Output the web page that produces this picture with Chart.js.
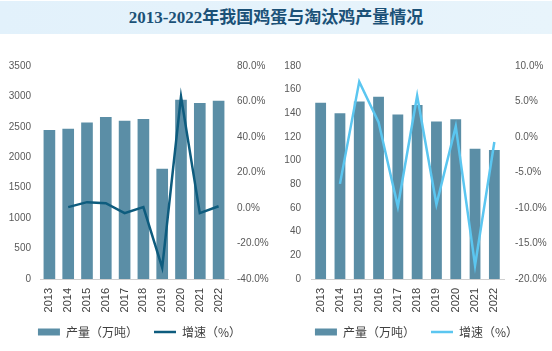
<!DOCTYPE html>
<html>
<head>
<meta charset="utf-8">
<script src="https://cdn.jsdelivr.net/npm/chart.js@4"></script>
<style>
  body { margin: 0; width: 552px; height: 351px; background: #fff; overflow: hidden; }
  #title {
    position: absolute; left: 0; top: 1px; width: 552px; height: 33px;
    background: linear-gradient(to right, #e2f1fb, #e8f4fb);
    color: #1b5177; font: bold 17px "Liberation Serif", "Noto Sans CJK SC", serif;
    text-align: center; line-height: 34px;
  }
  .box { position: absolute; top: 36px; width: 276px; height: 315px; }
</style>
</head>
<body>
<div id="title">2013-2022年我国鸡蛋与淘汰鸡产量情况</div>
<div class="box" style="left:0"><canvas id="egg"></canvas></div>
<div class="box" style="left:276px"><canvas id="hen"></canvas></div>
<script>
// 年份
const years = ["2013", "2014", "2015", "2016", "2017", "2018", "2019", "2020", "2021", "2022"];

// 鸡蛋产量（万吨）和增速（%）
const eggOutput = [2450, 2470, 2570, 2660, 2600, 2630, 1810, 2945, 2890, 2930];
const eggGrowth = [null, 0.5, 3.3, 2.7, -2.9, 0.5, -33.6, 62.8, -2.9, 1.0];

// 淘汰鸡产量（万吨）和增速（%）
const henOutput = [149, 140, 150, 154, 139, 147, 133, 135, 110, 109];
const henGrowth = [null, -6.6, 7.8, 2.1, -9.8, 5.8, -9.5, 1.5, -18.1, -0.7];

// 坐标轴范围
const eggAxis = { min: 0, max: 3500, step: 500, rmin: -40, rmax: 80, rstep: 20 };
const henAxis = { min: 0, max: 180, step: 20, rmin: -20, rmax: 10, rstep: 5 };

const tickFont = { family: "'Liberation Sans', Arial, sans-serif", size: 10 };
const tickColor = "#595959";
const noGrid = { display: false, drawTicks: false, tickLength: 0 };

// lay: 左右轴宽度和刻度间距
function makeChart(id, output, growth, ax, lineColor, barPct, pad, lay) {
  return new Chart(document.getElementById(id), {
    type: "bar",
    data: {
      labels: years,
      datasets: [
        {
          type: "line",
          label: "增速（%）",
          data: growth,
          yAxisID: "y1",
          borderColor: lineColor,
          backgroundColor: lineColor,
          borderWidth: 2.5,
          pointRadius: 0,
          pointStyle: "line",
          tension: 0,
          order: 0
        },
        {
          label: "产量（万吨）   ",
          data: output,
          yAxisID: "y",
          backgroundColor: "#5b8ea6",
          borderWidth: 0,
          barPercentage: barPct,
          categoryPercentage: 1,
          pointStyle: "rect",
          order: 1
        }
      ]
    },
    options: {
      responsive: true,
      maintainAspectRatio: false,
      animation: false,
      layout: { padding: pad },
      plugins: {
        tooltip: { enabled: false },
        legend: {
          position: "bottom",
          reverse: true,
          labels: {
            usePointStyle: true,
            pointStyleWidth: 22,
            boxHeight: 7,
            padding: 8,
            color: "#404040",
            font: { family: "'Noto Sans CJK SC', sans-serif", size: 12 }
          }
        }
      },
      scales: {
        x: {
          grid: noGrid,
          border: { display: true, color: "#d0d0d0" },
          afterFit: s => { s.height = 39; s.paddingLeft = 0; s.paddingRight = 0; },
          ticks: { autoSkip: false, minRotation: 90, maxRotation: 90, padding: 9,
                   color: "#404040", font: { family: "'Liberation Sans', Arial, sans-serif", size: 11 } }
        },
        y: {
          position: "left",
          min: ax.min, max: ax.max,
          grid: noGrid,
          border: { display: false },
          afterFit: s => { s.width = lay.lw; },
          ticks: { stepSize: ax.step, color: tickColor, font: tickFont, padding: lay.lp,
                   callback: v => String(v) }
        },
        y1: {
          position: "right",
          min: ax.rmin, max: ax.rmax,
          grid: noGrid,
          border: { display: false },
          afterFit: s => { s.width = lay.rw; },
          ticks: { stepSize: ax.rstep, color: tickColor, font: tickFont, padding: lay.rp,
                   callback: v => v.toFixed(1) + "%" }
        }
      }
    }
  });
}

makeChart("egg", eggOutput, eggGrowth, eggAxis, "#0e5c7e", 0.62,
  { top: 30, left: 8, right: 5, bottom: 3 }, { lw: 32, lp: 9, rw: 43, rp: 9 });
makeChart("hen", henOutput, henGrowth, henAxis, "#5bc6f0", 0.56,
  { top: 30, left: 9, right: 4, bottom: 3 }, { lw: 26, lp: 10, rw: 44, rp: 11 });
</script>
</body>
</html>
